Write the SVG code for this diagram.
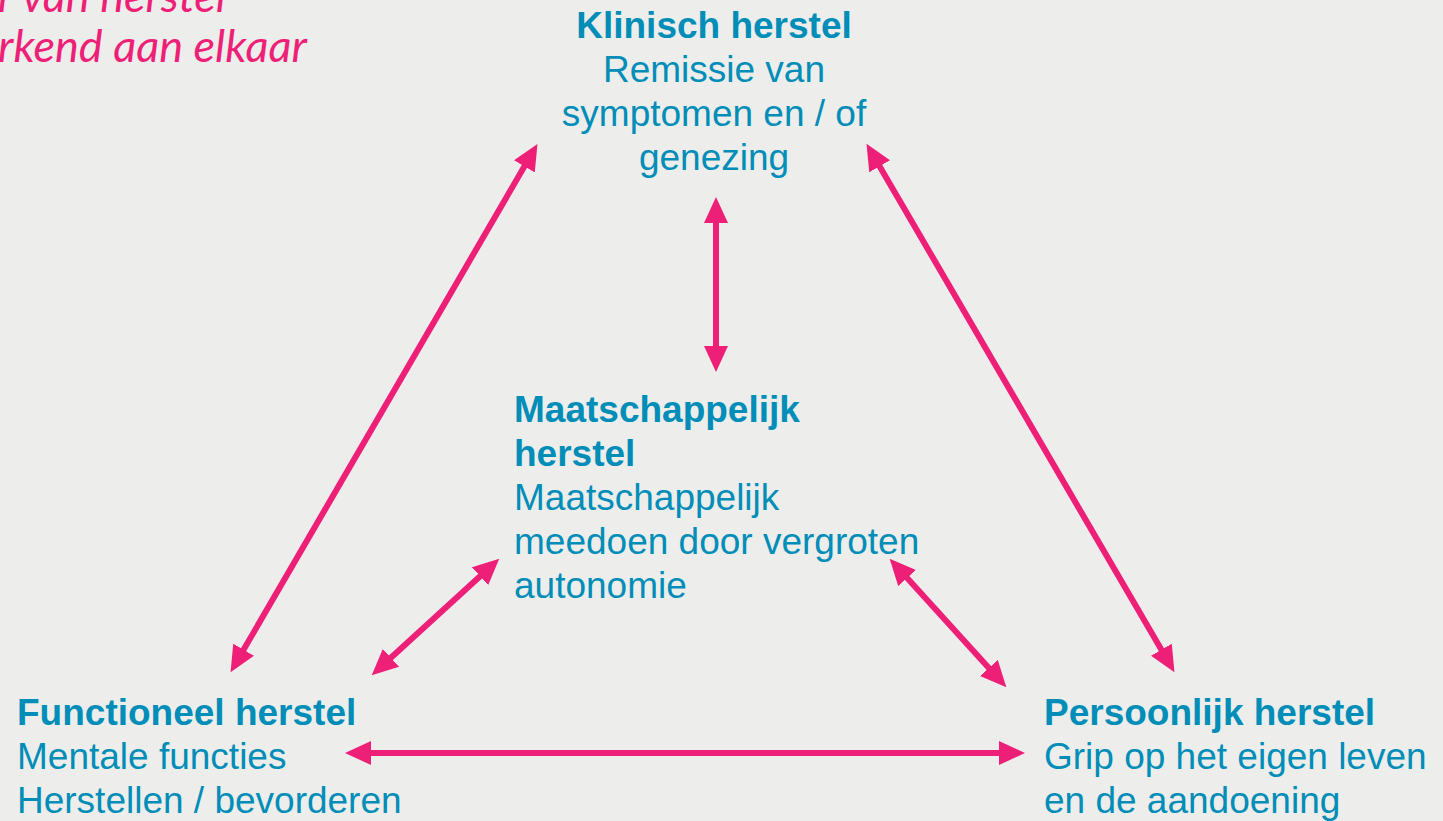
<svg xmlns="http://www.w3.org/2000/svg" width="1443" height="821" viewBox="0 0 1443 821">
<style>
.bg{fill:#EDEDEB}
.t{font-family:"Liberation Sans",Arial,sans-serif;font-size:37px;fill:#008DB8}
.b{font-weight:bold}
.c{text-anchor:middle}
.note{font-family:Lato,"Open Sans",sans-serif;font-style:italic;font-size:45px;fill:#EE1F77}
.con line{stroke:#EE1F77;stroke-width:6;marker-start:url(#ah);marker-end:url(#ah)}
</style>
<defs>
<marker id="ah" markerUnits="userSpaceOnUse" viewBox="0 0 26 24" refX="3" refY="12" markerWidth="26" markerHeight="24" orient="auto-start-reverse">
<path d="M0,0 L26,12 L0,24 Z" fill="#EE1F77"/>
</marker>
</defs>
<rect class="bg" x="0" y="0" width="1443" height="821"/>
<g id="note">
<text class="note" x="-2" y="12">r van herstel</text>
<text class="note" x="-2" y="62">rkend aan elkaar</text>
</g>
<g class="con" id="connectors">
<line x1="242.1" y1="652.3" x2="525.9" y2="163.8"/>
<line x1="878.1" y1="163.7" x2="1162.9" y2="652.3"/>
<line x1="716" y1="220" x2="716" y2="349"/>
<line x1="388.7" y1="659.8" x2="482.3" y2="574.2"/>
<line x1="905.1" y1="575.8" x2="990.9" y2="670.2"/>
<line x1="368" y1="753" x2="1002" y2="753"/>
</g>
<g id="klinisch">
<text class="t b c" x="714" y="38">Klinisch herstel</text>
<text class="t c" x="714" y="82">Remissie van</text>
<text class="t c" x="714" y="126">symptomen en / of</text>
<text class="t c" x="714" y="170">genezing</text>
</g>
<g id="maatschappelijk">
<text class="t b" x="514" y="422">Maatschappelijk</text>
<text class="t b" x="514" y="466">herstel</text>
<text class="t" x="514" y="510">Maatschappelijk</text>
<text class="t" x="514" y="554">meedoen door vergroten</text>
<text class="t" x="514" y="598">autonomie</text>
</g>
<g id="functioneel">
<text class="t b" x="17" y="725">Functioneel herstel</text>
<text class="t" x="17" y="769">Mentale functies</text>
<text class="t" x="17" y="813">Herstellen / bevorderen</text>
</g>
<g id="persoonlijk">
<text class="t b" x="1044" y="725">Persoonlijk herstel</text>
<text class="t" x="1044" y="769">Grip op het eigen leven</text>
<text class="t" x="1044" y="813">en de aandoening</text>
</g>
</svg>
